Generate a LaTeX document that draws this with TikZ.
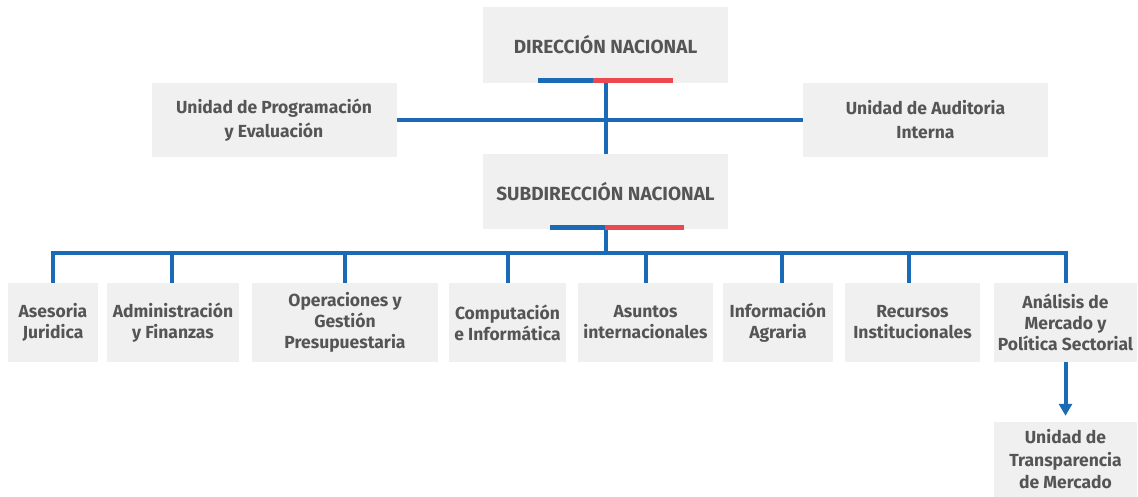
\documentclass[tikz,border=0pt]{standalone}
\usepackage{fontspec}
\setmainfont{Fira Sans}
\usepackage{xcolor}
\usepackage{tikz}
\usetikzlibrary{positioning,calc,arrows.meta}
\definecolor{OrgBlue}{RGB}{27,106,181}
\definecolor{OrgRed}{RGB}{236,72,80}
\definecolor{OrgGray}{RGB}{240,240,240}
\definecolor{OrgText}{RGB}{85,85,85}
\tikzset{
    unitbox/.style={rectangle, fill=OrgGray, text=OrgText, align=center, inner sep=0pt, font=\bfseries\fontsize{17.5}{21}\selectfont},
    link/.style={draw=OrgBlue, line width=4pt}
}

\begin{document}
\begin{tikzpicture}[
        x=1pt, y=-1pt,
        % --- STYLES ---
        headbox/.style={
            unitbox,
            minimum width=245pt,
            minimum height=75pt,
            font=\bfseries\fontsize{19}{22}\selectfont
        },
        sidebox/.style={
            unitbox,
            minimum width=245pt,
            minimum height=74pt,
            font=\bfseries\fontsize{17.5}{24}\selectfont
        },
        deptbox/.style={
            unitbox,
            minimum height=79pt
        },
        barblue/.style={draw=OrgBlue, line width=5pt},
        barred/.style={draw=OrgRed, line width=5pt}
    ]

        \useasboundingbox (0,0) rectangle (1138,497);

        % --- DIRECCION ---
        \node[headbox, minimum height=76pt] (dir) at (605.5,45) {DIRECCIÓN NACIONAL};
        \node[headbox] (sub) at (605.5,191.5) {SUBDIRECCIÓN NACIONAL};

        % --- UNIDADES LATERALES ---
        \node[sidebox] (upe) at (274,120) {Unidad de Programación\\y Evaluación};
        \node[sidebox] (aud) at (925.5,120) {Unidad de Auditoria\\Interna};

        % --- DEPARTAMENTOS ---
        \node[deptbox, minimum width=90pt]  (b1) at (53,322.5) {Asesoria\\Juridica};
        \node[deptbox, minimum width=132pt] (b2) at (173,322.5) {Administración\\y Finanzas};
        \node[deptbox, minimum width=186pt] (b3) at (345,322.5) {Operaciones y\\Gestión\\Presupuestaria};
        \node[deptbox, minimum width=117pt] (b4) at (507.5,322.5) {Computación\\e Informática};
        \node[deptbox, minimum width=135pt] (b5) at (645.5,322.5) {Asuntos\\internacionales};
        \node[deptbox, minimum width=110pt] (b6) at (778,322.5) {Información\\Agraria};
        \node[deptbox, minimum width=135pt] (b7) at (912.5,322.5) {Recursos\\Institucionales};
        \node[deptbox, minimum width=143pt] (b8) at (1065.5,322.5) {Análisis de\\Mercado y\\Política Sectorial};

        \node[unitbox, minimum width=143pt, minimum height=75pt, font=\bfseries\fontsize{17.5}{22.5}\selectfont] (transp) at (1065.5,459.5) {Unidad de\\Transparencia\\de Mercado};

        % --- CONEXIONES ---
        \draw[link] (dir.south) -- (sub.north);
        \draw[link] (upe.east) -- (aud.west);

        \coordinate (bus) at (605.5,253);
        \draw[link] (sub.south) -- (bus);
        \draw[link] (b1.north) |- (bus) -| (b8.north);
        \foreach \dept/\dx in {b2/-1, b3/0, b4/0.5, b5/0.5, b6/4, b7/-3.5} {
            \draw[link] ([xshift=\dx pt]\dept.north) -- ([xshift=\dx pt]\dept.north |- bus);
        }

        \draw[link, -{Triangle[length=12pt, width=13pt]}, shorten >=6pt] (b8.south) -- (transp.north);

        % --- BARRAS DE COLOR ---
        \draw[barblue] ([xshift=-67.5pt, yshift=3pt]dir.south) -- ++(55,0);
        \draw[barred] ([xshift=-12.5pt, yshift=3pt]dir.south) -- ++(80,0);
        \draw[barblue] ([xshift=-55.5pt, yshift=2pt]sub.south) -- ++(55,0);
        \draw[barred] ([xshift=-0.5pt, yshift=2pt]sub.south) -- ++(79,0);

\end{tikzpicture}
\end{document}
